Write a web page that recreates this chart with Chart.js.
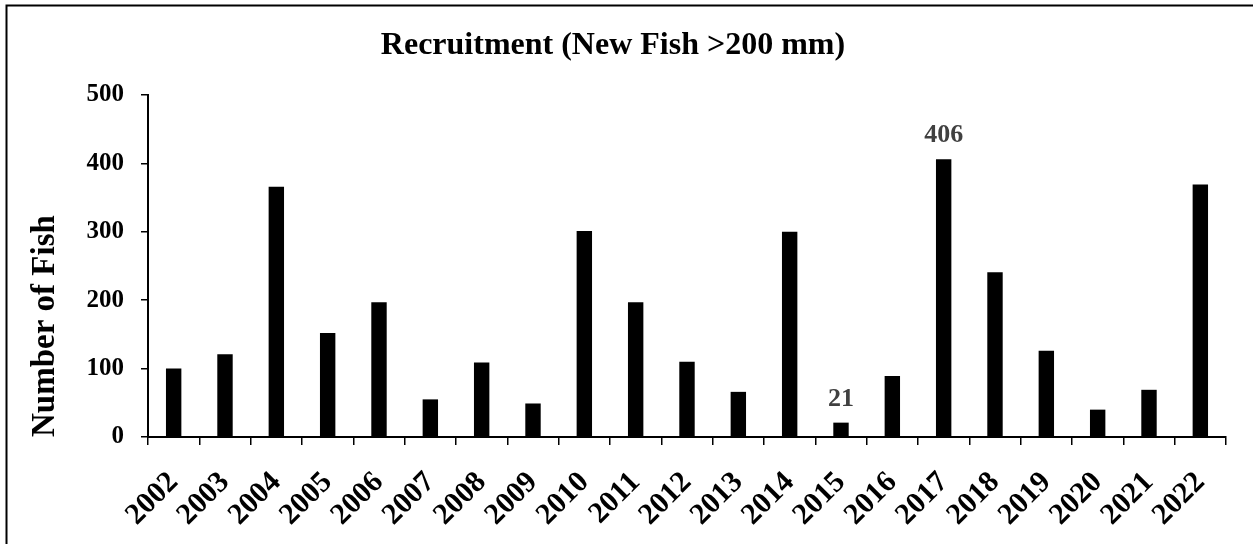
<!DOCTYPE html>
<html>
<head>
<meta charset="utf-8">
<title>Recruitment</title>
<script src="https://cdn.jsdelivr.net/npm/chart.js@4/dist/chart.umd.min.js"></script>
<style>
  html, body { margin: 0; padding: 0; background: #fff; }
  #wrap { width: 1253px; height: 544px; }
</style>
</head>
<body>
<div id="wrap"><canvas id="recruitChart" width="1253" height="544"></canvas></div>
<script>
// data
const years = ['2002', '2003', '2004', '2005', '2006', '2007', '2008', '2009', '2010', '2011', '2012',
  '2013', '2014', '2015', '2016', '2017', '2018', '2019', '2020', '2021', '2022'];
const newFish = [100, 121, 366, 152, 197, 55, 109, 49, 301, 197, 110,
  66, 300, 21, 89, 406, 241, 126, 40, 69, 369];
const labelledYears = ['2015', '2017'];
const yTicks = [0, 100, 200, 300, 400, 500];

const serif = '"Liberation Serif", "Times New Roman", serif';

// outer frame round the whole chart
const framePlugin = {
  id: 'frame',
  beforeDraw(chart) {
    const ctx = chart.ctx;
    ctx.save();
    ctx.fillStyle = '#ffffff';
    ctx.fillRect(0, 0, chart.width, chart.height);
    ctx.strokeStyle = '#000000';
    ctx.lineWidth = 2;
    ctx.strokeRect(6.5, 5.5, chart.width + 10, chart.height + 10);
    ctx.restore();
  }
};

// value labels over the picked bars
const valueLabelPlugin = {
  id: 'valueLabels',
  afterDatasetsDraw(chart) {
    const ctx = chart.ctx;
    const meta = chart.getDatasetMeta(0);
    ctx.save();
    ctx.font = 'bold 26px ' + serif;
    ctx.fillStyle = '#404040';
    ctx.textAlign = 'center';
    ctx.textBaseline = 'alphabetic';
    labelledYears.forEach(year => {
      const i = years.indexOf(year);
      const bar = meta.data[i];
      ctx.fillText(String(newFish[i]), bar.x, bar.y - 17);
    });
    ctx.restore();
  }
};

const ctx = document.getElementById('recruitChart').getContext('2d');

new Chart(ctx, {
  type: 'bar',
  data: {
    labels: years,
    datasets: [{
      label: 'New Fish',
      data: newFish,
      backgroundColor: '#000000',
      borderWidth: 0,
      categoryPercentage: 1,
      barPercentage: 0.3
    }]
  },
  options: {
    responsive: false,
    animation: false,
    devicePixelRatio: 1,
    layout: {
      padding: { left: 0, right: 27, top: 0, bottom: 0 }
    },
    plugins: {
      legend: { display: false },
      tooltip: { enabled: false },
      title: {
        display: true,
        text: 'Recruitment (New Fish >200 mm)',
        color: '#000000',
        font: { family: serif, size: 32, weight: 'bold', lineHeight: 1.2 },
        padding: { top: 27, bottom: 29.6 }
      }
    },
    scales: {
      x: {
        grid: {
          display: true,
          offset: true,
          drawOnChartArea: false,
          drawTicks: true,
          tickLength: 8,
          color: '#000000',
          lineWidth: 1.5
        },
        border: { display: true, color: '#000000', width: 2 },
        ticks: {
          color: '#000000',
          font: { family: serif, size: 30, weight: 'bold' },
          minRotation: 45,
          maxRotation: 45,
          autoSkip: false,
          padding: 20
        },
        afterFit(scale) {
          scale.height = 107;
        }
      },
      y: {
        min: 0,
        max: 500,
        afterBuildTicks(scale) {
          scale.ticks = yTicks.map(v => ({ value: v }));
        },
        grid: {
          display: true,
          drawOnChartArea: false,
          drawTicks: true,
          tickLength: 7,
          color: '#000000',
          lineWidth: 1.5
        },
        border: { display: true, color: '#000000', width: 2 },
        ticks: {
          color: '#000000',
          font: { family: serif, size: 25, weight: 'bold' },
          padding: 17
        },
        title: {
          display: true,
          text: 'Number of Fish',
          align: 'start',
          color: '#000000',
          font: { family: serif, size: 33, weight: 'bold', lineHeight: 1.2 },
          padding: { top: 26, bottom: 0 }
        },
        afterFit(scale) {
          scale.width = 148;
        }
      }
    }
  },
  plugins: [framePlugin, valueLabelPlugin]
});
</script>
</body>
</html>
